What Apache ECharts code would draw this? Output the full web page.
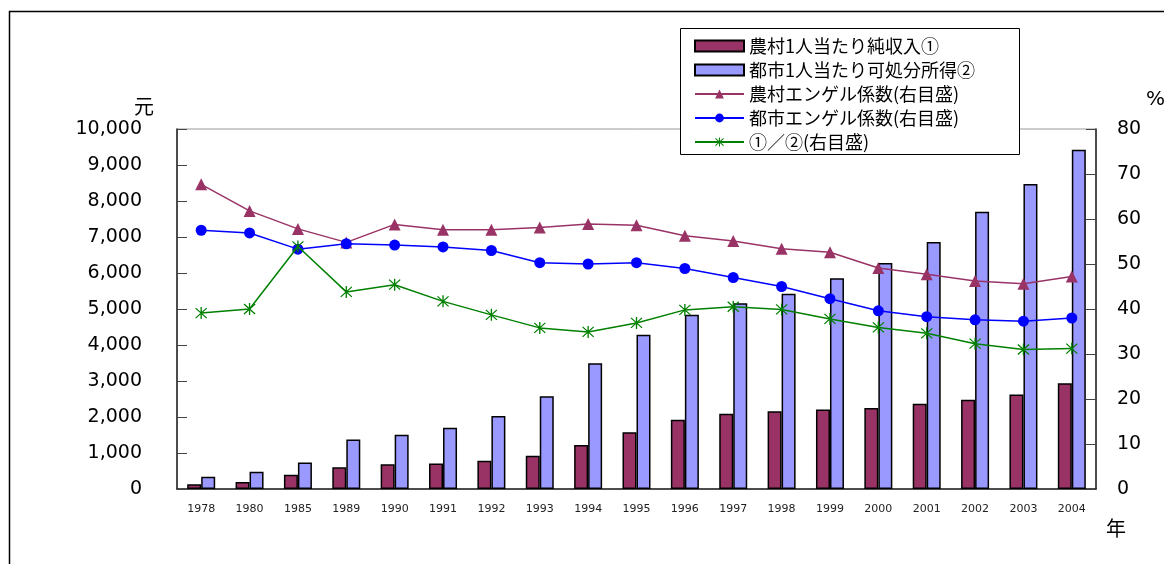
<!DOCTYPE html>
<html><head><meta charset="utf-8">
<script src="https://cdn.jsdelivr.net/npm/echarts@6/dist/echarts.min.js"></script>
<style>html,body{margin:0;padding:0;background:#fff}#c{width:1164px;height:564px}</style>
</head><body><div id="c"></div>
<script>
var years = ['1978','1980','1985','1989','1990','1991','1992','1993','1994','1995','1996','1997','1998','1999','2000','2001','2002','2003','2004'];
var ruralIncome = [134,191,398,602,686,709,784,922,1221,1578,1926,2090,2162,2210,2253,2366,2476,2622,2936];
var urbanIncome = [343,478,739,1374,1510,1701,2027,2577,3496,4283,4839,5160,5425,5854,6280,6860,7703,8472,9422];
var ruralEngel = [67.7,61.8,57.8,54.8,58.8,57.6,57.6,58.1,58.9,58.6,56.3,55.1,53.4,52.6,49.1,47.7,46.2,45.6,47.2];
var urbanEngel = [57.5,56.9,53.3,54.5,54.2,53.8,53.0,50.3,50.0,50.3,49.0,47.0,45.0,42.3,39.6,38.3,37.6,37.3,38.0];
var ratio = [39.1,40.0,53.9,43.8,45.4,41.7,38.7,35.8,34.9,36.9,39.8,40.5,39.9,37.8,35.9,34.6,32.3,31.0,31.2];
var leftTicks = {min:0, max:10000, interval:1000};
var rightTicks = {min:0, max:80, interval:10};
var names = ['農村1人当たり純収入①','都市1人当たり可処分所得②','農村エンゲル係数(右目盛)','都市エンゲル係数(右目盛)','①／②(右目盛)'];

var star = 'path://M5.4 0 L6.6 0 L6.6 12 L5.4 12 Z M0.6 1.4 L1.4 0.6 L11.4 10.6 L10.6 11.4 Z M10.6 0.6 L11.4 1.4 L1.4 11.4 L0.6 10.6 Z';
var chart = echarts.init(document.getElementById('c'));
var jp = '"Noto Sans CJK JP", sans-serif';
var num = '"DejaVu Sans", sans-serif';
chart.setOption({
  animation:false,
  backgroundColor:'#fff',
  grid:{left:177, right:68, top:129, bottom:75, show:true, borderColor:'#999', borderWidth:1},
  graphic:[
    {type:'rect', shape:{x:9.5, y:11.5, width:1200, height:600}, style:{fill:'none', stroke:'#000', lineWidth:1.5}, z:-10},
    {type:'rect', shape:{x:680.5, y:28.5, width:339, height:126}, style:{fill:'#fff', stroke:'#000', lineWidth:1}, z:50},
    {type:'text', left:134, top:96, style:{text:'元', font:'20px '+jp, fill:'#000'}},
    {type:'text', left:1146, top:90, style:{text:'%', font:'20px '+num, fill:'#000'}},
    {type:'text', left:1106, top:518, style:{text:'年', font:'20px '+jp, fill:'#000'}}
  ],
  legend:{
    orient:'vertical', left:689, top:32, z:60, selectedMode:false,
    itemWidth:49, itemHeight:11, itemGap:6,
    data:[
      {name:names[0], icon:'rect'},
      {name:names[1], icon:'rect'},
      {name:names[2]},
      {name:names[3]},
      {name:names[4]}
    ],
    textStyle:{fontFamily:jp, fontSize:18, color:'#000'}
  },
  xAxis:{
    type:'category', data:years, boundaryGap:true,
    axisLine:{lineStyle:{color:'#222', width:1.5}},
    axisTick:{inside:true, length:5, alignWithLabel:false, interval:0, lineStyle:{color:'#444'}},
    axisLabel:{interval:0, margin:15, fontFamily:num, fontSize:11, color:'#222'}
  },
  yAxis:[
    {type:'value', min:leftTicks.min, max:leftTicks.max, interval:leftTicks.interval, splitLine:{show:false},
     axisLine:{show:true, lineStyle:{color:'#222', width:1.5}},
     axisTick:{show:true, inside:true, length:10, lineStyle:{color:'#444'}},
     axisLabel:{margin:35, fontFamily:num, fontSize:19, color:'#000', formatter:function(v){return v.toLocaleString('en-US');}}},
    {type:'value', min:rightTicks.min, max:rightTicks.max, interval:rightTicks.interval, splitLine:{show:false},
     axisLine:{show:true, lineStyle:{color:'#222', width:1.5}},
     axisTick:{show:true, inside:true, length:10, lineStyle:{color:'#444'}},
     axisLabel:{margin:21, fontFamily:num, fontSize:19, color:'#000'}}
  ],
  series:[
    {name:names[0], type:'bar', data:ruralIncome, barWidth:14, barGap:'0%', itemStyle:{color:'#993366', borderColor:'#000', borderWidth:1.5}},
    {name:names[1], type:'bar', data:urbanIncome, barWidth:14, barGap:'0%', itemStyle:{color:'#9999FF', borderColor:'#000', borderWidth:1.5}},
    {name:names[2], type:'line', yAxisIndex:1, data:ruralEngel, symbol:'triangle', symbolSize:12, z:5,
     lineStyle:{color:'#993366', width:1.5}, itemStyle:{color:'#993366'}},
    {name:names[3], type:'line', yAxisIndex:1, data:urbanEngel, symbol:'circle', symbolSize:11, z:6,
     lineStyle:{color:'#0000FF', width:1.5}, itemStyle:{color:'#0000FF'}},
    {name:names[4], type:'line', yAxisIndex:1, data:ratio, symbol:star, symbolSize:12, z:7,
     lineStyle:{color:'#008000', width:1.5}, itemStyle:{color:'#008000'}}
  ]
});
</script></body></html>
